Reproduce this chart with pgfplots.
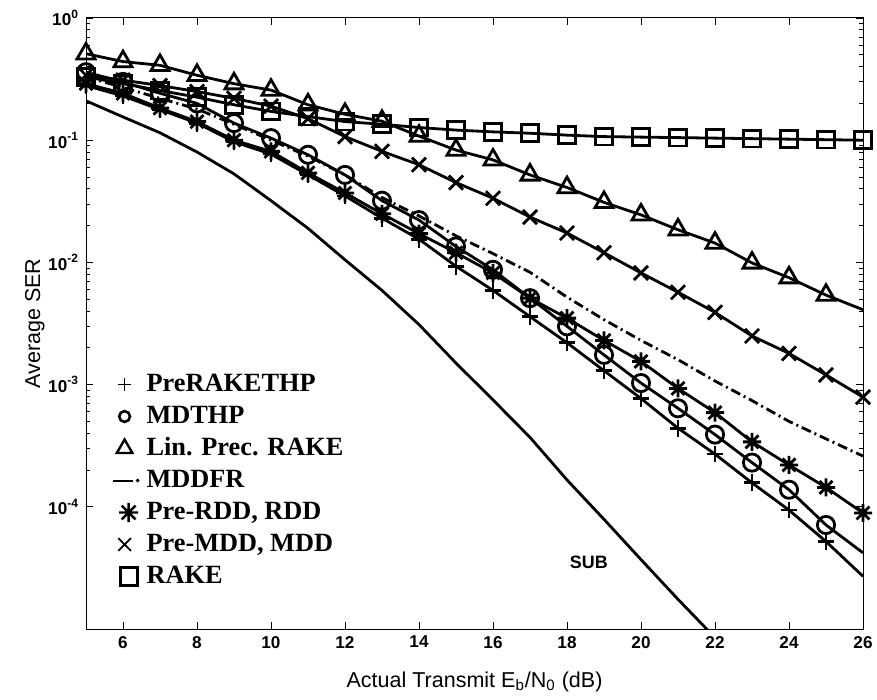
\documentclass[border=0pt]{standalone}
\usepackage{fontspec}
\setmainfont{Liberation Serif}
\setsansfont{Liberation Sans}
\usepackage{pgfplots}
\usepackage{pgfplotstable}
\pgfplotsset{compat=1.18}

% 8-armed asterisk as matlab draws it
\pgfdeclareplotmark{ast8}{%
  \pgfpathmoveto{\pgfqpoint{-\pgfplotmarksize}{0pt}}%
  \pgfpathlineto{\pgfqpoint{\pgfplotmarksize}{0pt}}%
  \pgfpathmoveto{\pgfqpoint{0pt}{-\pgfplotmarksize}}%
  \pgfpathlineto{\pgfqpoint{0pt}{\pgfplotmarksize}}%
  \pgfpathmoveto{\pgfqpoint{-0.72\pgfplotmarksize}{-0.72\pgfplotmarksize}}%
  \pgfpathlineto{\pgfqpoint{0.72\pgfplotmarksize}{0.72\pgfplotmarksize}}%
  \pgfpathmoveto{\pgfqpoint{-0.72\pgfplotmarksize}{0.72\pgfplotmarksize}}%
  \pgfpathlineto{\pgfqpoint{0.72\pgfplotmarksize}{-0.72\pgfplotmarksize}}%
  \pgfusepathqstroke}

\newcommand\tickfont{\fontsize{8.6}{10}\selectfont\sffamily\bfseries}
\newcommand\labfont{\fontsize{10.8}{12}\selectfont\sffamily}
\newcommand\legfont{\fontsize{13.2}{15}\selectfont\rmfamily\bfseries}

\pgfplotsset{
  curve/.style={black, line width=1.4bp, mark options={solid}},
  legsym/.style={legend image code/.code={%
      \path[draw=none, fill=none] (0bp,-5bp) rectangle (18bp,5bp);
      \draw[black, #1] plot[only marks] coordinates {(9bp,0bp)};}},
}

% SER vs Eb/N0
\pgfplotstableread{
x  sub       pre       md        lin     fr       rdd       mdd     rake
5  0.21      0.28      0.36      0.51    0.33     0.29      0.34    0.33
6  0.155     0.23      0.30      0.44    0.27     0.242     0.31    0.29
7  0.115     0.178     0.242     0.41    0.22     0.183     0.28    0.255
8  0.08      0.138     0.2       0.34    0.18     0.142     0.25    0.225
9  0.053     0.097     0.138     0.29    0.135    0.1       0.22    0.195
10 0.032     0.077     0.104     0.257   0.1      0.081     0.19    0.172
11 0.019     0.052     0.076     0.195   0.074    0.054     0.15    0.156
12 0.0105    0.035     0.052     0.163   0.052    0.037     0.107   0.142
13 0.0059    0.023     0.032     0.143   0.034    0.025     0.081   0.135
14 0.0031    0.0155    0.0222    0.108   0.024    0.0172    0.063   0.127
15 0.0015    0.0093    0.0135    0.083   0.0165   0.012     0.045   0.121
16 0.00075   0.0059    0.0087    0.069   0.0118   0.0082    0.0335  0.117
17 0.00037   0.0036    0.0051    0.052   0.0083   0.0051    0.0235  0.114
18 0.000166  0.0022    0.003     0.041   0.0052   0.0035    0.0174  0.11
19 0.000079  0.0013    0.00175   0.031   0.0034   0.0023    0.012   0.107
20 0.000037  0.00077   0.00103   0.0245  0.0023   0.00155   0.0082  0.106
21 0.0000175 0.00044   0.00064   0.0185  0.0016   0.00093   0.0057  0.105
22 0.0000085 0.00027   0.00039   0.0144  0.00107  0.00059   0.0039  0.104
23 nan       0.000157  0.00023   0.0099  0.00074  0.00034   0.0025  0.103
24 nan       0.000094  0.000138  0.0075  0.0005   0.00022   0.0018  0.102
25 nan       0.000052  0.000071  0.0054  0.00036  0.000144  0.0012  0.101
26 nan       0.000027  0.000042  0.0041  0.00026  0.000089  0.00079 0.1
}\ser

\begin{document}
\begin{tikzpicture}
\begin{axis}[
  name=ax,
  scale only axis,
  width=388.5bp, height=305.5bp,
  ymode=log,
  xmin=5, xmax=26, ymin=1e-5, ymax=1,
  xtick={6,8,...,26},
  ytick={1e-4,1e-3,1e-2,1e-1,1},
  yticklabels={10\textsuperscript{-4},10\textsuperscript{-3},10\textsuperscript{-2},10\textsuperscript{-1},10\textsuperscript{0}},
  /pgf/number format/assume math mode=true,
  tick label style={font=\tickfont},
  major tick length=3.5bp, minor tick length=2.2bp,
  every tick/.style={black, line width=0.4bp},
  axis line style={line width=0.5bp},
  xlabel={Actual Transmit E\textsubscript{b}/N\textsubscript{0} (dB)},
  ylabel={Average SER},
  label style={font=\labfont},
  xlabel style={at={(axis description cs:0.5,-0.095)}, anchor=base},
  ylabel style={at={(axis description cs:-0.066,0.5)}, anchor=center},
  legend style={draw=none, fill=none, at={(rel axis cs:0.026,0.427)},
    anchor=north west, font=\legfont, inner sep=0pt, row sep=0pt,
    column sep=1bp,
    nodes={inner xsep=1bp, inner ysep=1.75bp, text height=9.5bp, text depth=3bp}},
  legend cell align=left,
]
\addplot[curve, forget plot] table[y=sub] {\ser};
\addplot[curve, forget plot] table[y=pre] {\ser};
\addplot[curve, forget plot, only marks, mark=+, mark size=4.2bp,
  restrict x to domain=5:25] table[y=pre] {\ser};
\addplot[curve, forget plot] table[y=md] {\ser};
\addplot[curve, forget plot, only marks, mark=o, mark size=4.3bp,
  restrict x to domain=5:25] table[y=md] {\ser};
\addplot[curve, forget plot] table[y=lin] {\ser};
\addplot[curve, forget plot, only marks, mark=triangle, mark size=5.2bp,
  restrict x to domain=5:25] table[y=lin] {\ser};
\addplot[curve, forget plot, dash pattern=on 5bp off 2bp on 1bp off 2bp] table[y=fr] {\ser};
\addplot[curve, forget plot, mark=ast8, mark size=4.5bp] table[y=rdd] {\ser};
\addplot[curve, forget plot, mark=x, mark size=5bp] table[y=mdd] {\ser};
\addplot[curve, forget plot, mark=square, mark size=4.2bp] table[y=rake] {\ser};

\node[font=\fontsize{9}{10}\selectfont\sffamily\bfseries] at (axis cs:18.59,3.5e-5) {SUB};

\addlegendimage{legsym={mark=+, mark size=3.3bp, line width=0.6bp}}
\addlegendentry{PreRAKETHP}
\addlegendimage{legsym={mark=o, mark size=2.7bp, line width=1.3bp}}
\addlegendentry{MDTHP}
\addlegendimage{legsym={mark=triangle, mark size=4.5bp, line width=1.2bp}}
\addlegendentry{Lin. Prec. RAKE}
\addlegendimage{legend image code/.code={%
    \path[draw=none, fill=none] (0bp,-5bp) rectangle (18bp,5bp);
    \draw[black, line width=1bp] (3bp,0bp) -- (13bp,0bp);
    \fill[black] (15.5bp,0bp) circle (0.7bp);}}
\addlegendentry{MDDFR}
\addlegendimage{legsym={xshift=2bp, mark=ast8, mark size=4.8bp, line width=1.2bp}}
\addlegendentry{Pre-RDD, RDD}
\addlegendimage{legsym={mark=x, mark size=4.5bp, line width=0.9bp}}
\addlegendentry{Pre-MDD, MDD}
\addlegendimage{legsym={xshift=2bp, mark=square, mark size=4.3bp, line width=1.5bp}}
\addlegendentry{RAKE}
\end{axis}
\pgfresetboundingbox
\path ([shift={(-43bp,-35.5bp)}]ax.south west) rectangle ([shift={(7bp,9bp)}]ax.north east);
\end{tikzpicture}
\end{document}
